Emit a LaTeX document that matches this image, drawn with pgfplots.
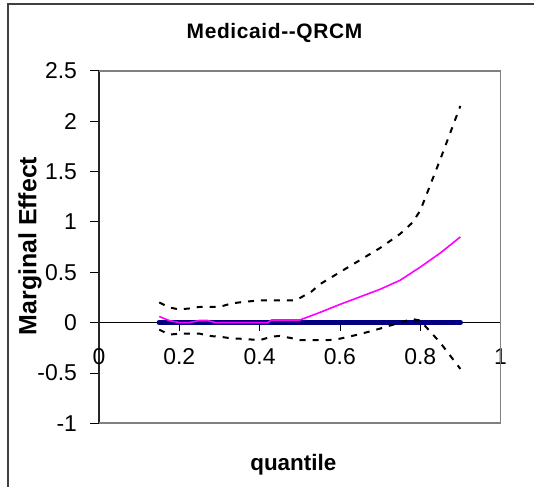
\documentclass[border=0pt]{standalone}
\usepackage{fontspec}
\setmainfont{Liberation Sans}
\usepackage{pgfplots}
\pgfplotsset{compat=1.18}
\definecolor{navyline}{HTML}{000080}
\definecolor{magline}{HTML}{FF00FF}
\definecolor{boxgray}{HTML}{808080}
\definecolor{framegray}{HTML}{404040}

\begin{document}
\begin{tikzpicture}
% outer chart frame (only left and top edges fall inside the picture)
\draw[framegray, line width=1.8bp] (8.3bp,-5bp) -- (8.3bp,483bp) -- (545bp,483bp);

\begin{axis}[
  at={(99bp,63.7bp)}, anchor=south west,
  scale only axis, width=401.5bp, height=352.6bp,
  xmin=0, xmax=1, ymin=-1, ymax=2.5,
  axis x line=middle, axis y line=left,
  hide obscured x ticks=false, hide obscured y ticks=false,
  x axis line style={-, black, line width=0.9bp},
  y axis line style={-, black!85, line width=1.6bp},
  xtick={0,0.2,0.4,0.6,0.8,1}, xticklabels={0,0.2,0.4,0.6,0.8,1},
  ytick={-1,-0.5,0,0.5,1,1.5,2,2.5},
  yticklabels={-1,-0.5,0,0.5,1,1.5,2,2.5},
  tick align=outside, major tick length=8.5bp,
  tick style={black, line width=0.8bp},
  ticklabel style={font=\fontsize{23}{23}\selectfont},
  xticklabel style={anchor=center, yshift=-25.5bp},
  yticklabel style={anchor=east, xshift=-10bp},
  clip=false,
]
% plot area border (top, right, bottom)
\draw[boxgray, line width=1.7bp] (rel axis cs:0,1) -- (rel axis cs:1,1) -- (rel axis cs:1,0) -- (rel axis cs:0,0);

% zero reference
\addplot[navyline, line width=5.3bp, line cap=round] coordinates {
  (0.15,0) (0.2,0) (0.3,0) (0.4,0) (0.5,0) (0.6,0) (0.7,0) (0.8,0) (0.9,0)};

% QRCM estimate
\addplot[magline, line width=1.6bp] coordinates {
  (0.15,0.06) (0.175,0.02) (0.2,0.0) (0.225,0.0) (0.25,0.02) (0.27,0.02)
  (0.29,0.0) (0.42,0.0) (0.43,0.025) (0.5,0.025) (0.55,0.10) (0.6,0.18)
  (0.65,0.255) (0.7,0.33) (0.75,0.42) (0.8,0.55) (0.85,0.69) (0.9,0.85)};

% upper bound
\addplot[black, line width=2bp, dash pattern=on 6bp off 7bp] coordinates {
  (0.15,0.20) (0.175,0.15) (0.2,0.13) (0.225,0.14) (0.25,0.155) (0.3,0.155)
  (0.33,0.19) (0.36,0.205) (0.4,0.22) (0.49,0.22) (0.53,0.31) (0.55,0.38)
  (0.6,0.50) (0.65,0.62) (0.7,0.74) (0.75,0.88) (0.78,0.99) (0.8,1.11)
  (0.85,1.62) (0.9,2.15)};

% lower bound
\addplot[black, line width=2bp, dash pattern=on 6bp off 7bp] coordinates {
  (0.15,-0.07) (0.175,-0.12) (0.2,-0.11) (0.25,-0.11) (0.28,-0.135)
  (0.3,-0.14) (0.33,-0.157) (0.36,-0.162) (0.4,-0.175) (0.43,-0.14)
  (0.45,-0.133) (0.48,-0.155) (0.5,-0.175) (0.57,-0.175) (0.6,-0.16)
  (0.65,-0.115) (0.7,-0.06) (0.75,0.0) (0.78,0.035) (0.8,0.02)
  (0.85,-0.2) (0.9,-0.46)};
\end{axis}

\node[font=\fontsize{21}{21}\selectfont\bfseries\addfontfeature{LetterSpace=3}] at (274.5bp,453.7bp) {Medicaid-{}-QRCM};
\node[font=\fontsize{22.5}{22.5}\selectfont\bfseries] at (293.3bp,22bp) {quantile};
\node[font=\fontsize{25}{25}\selectfont\bfseries, rotate=90] at (30bp,241bp) {Marginal Effect};

\pgfresetboundingbox
\useasboundingbox (0,0) rectangle (534bp,487bp);
\end{tikzpicture}
\end{document}
